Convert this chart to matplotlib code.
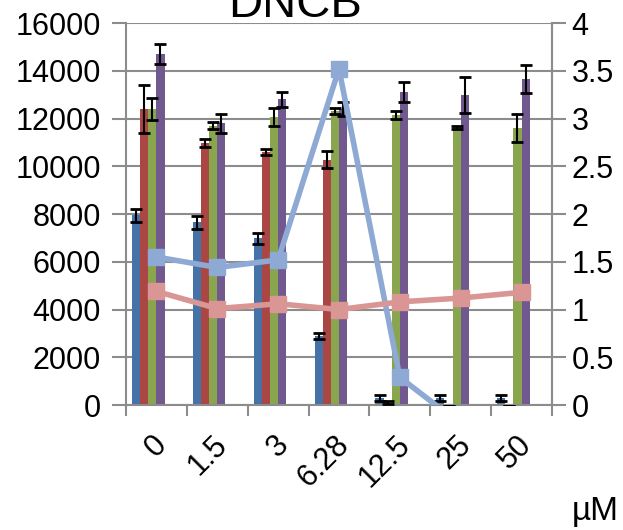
import matplotlib.pyplot as plt
import numpy as np

plt.rcParams['font.family'] = ['Liberation Sans', 'DejaVu Sans']

# Data
conc = ['0', '1.5', '3', '6.28', '12.5', '25', '50']

blue = [7950, 7650, 6980, 2900, 300, 280, 280]
blue_err = [270, 270, 220, 120, 120, 120, 120]
red = [12400, 10980, 10600, 10280, 100, -60, -60]
red_err = [1000, 180, 130, 350, 60, 0, 0]
green = [12400, 11700, 12050, 12300, 12150, 11640, 11600]
green_err = [450, 160, 380, 120, 150, 60, 580]
purple = [14720, 11800, 12800, 12400, 13100, 12970, 13650]
purple_err = [420, 400, 330, 280, 420, 760, 580]

line_blue = [1.55, 1.44, 1.52, 3.52, 0.29, -0.2, -0.2]
line_pink = [1.19, 1.01, 1.06, 1.0, 1.08, 1.12, 1.18]

bar_series = [(blue, blue_err, '#4572A7'),
              (red, red_err, '#AA4643'),
              (green, green_err, '#89A54E'),
              (purple, purple_err, '#71588F')]

x = np.arange(len(conc))
w = 1 / 7.5  # 6 slots + 150% gap, as in the Excel original

fig = plt.figure(figsize=(6.23, 5.30), dpi=100)
ax = fig.add_axes([0.2022, 0.2358, 0.6838, 0.7208])

for i, (vals, errs, col) in enumerate(bar_series):
    pos = x + (i - 2.5) * w
    ax.bar(pos, vals, width=w, color=col, zorder=2)
    ax.errorbar(pos, vals, yerr=errs, fmt='none', ecolor='black',
                elinewidth=1.5, capsize=4, capthick=2, zorder=3)

ax.set_ylim(0, 16000)
ax.set_xlim(-0.5, len(conc) - 0.5)
ax.set_yticks(np.arange(0, 16001, 2000))
ax.yaxis.grid(True, color='#8c8c8c', linewidth=1.5, zorder=0)
ax.set_axisbelow(True)
ax.spines['top'].set_visible(False)
for s in ['left', 'bottom', 'right']:
    ax.spines[s].set_color('#8c8c8c')
    ax.spines[s].set_linewidth(1.5)
ax.tick_params(axis='y', labelsize=22, length=10, width=1.5, color='#8c8c8c', pad=8)
ax.set_xticks(np.arange(-0.5, len(conc), 1))
ax.set_xticklabels([])
ax.tick_params(axis='x', length=8, width=1.5, color='#8c8c8c')
for xi, lab in zip(x, conc):
    ax.text(xi - 0.08, -1050, lab, rotation=45, ha='right', va='top',
            fontsize=22, rotation_mode='anchor')

ax2 = ax.twinx()
ax2.plot(x, line_blue, color='#8EA9D3', linewidth=4, marker='s',
         markersize=11, zorder=4)
ax2.plot(x, line_pink, color='#D99694', linewidth=4, marker='s',
         markersize=11, zorder=4)
ax2.set_ylim(0, 4)
ax2.set_yticks(np.arange(0, 4.01, 0.5))
ax2.set_yticklabels(['0', '0.5', '1', '1.5', '2', '2.5', '3', '3.5', '4'])
ax2.tick_params(axis='y', labelsize=22, length=10, width=1.5, color='#8c8c8c', pad=4)
for s in ['top', 'left', 'bottom']:
    ax2.spines[s].set_visible(False)
ax2.spines['right'].set_color('#8c8c8c')
ax2.spines['right'].set_linewidth(1.5)

fig.text(0.474, 0.968, 'DNCB', fontsize=34, ha='center', va='baseline')
fig.text(0.918, 0.005, 'µM', fontsize=24, ha='left', va='bottom')

fig.savefig('out.png', dpi=100)
